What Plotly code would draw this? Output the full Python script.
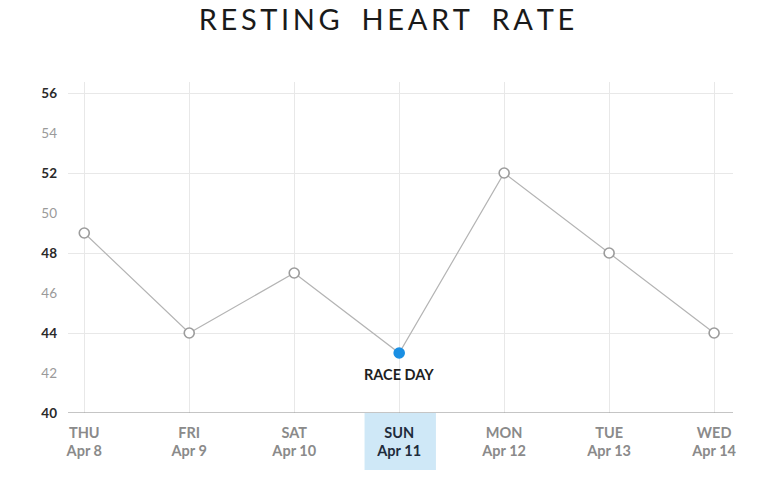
import plotly.graph_objects as go

# values
days = ["THU", "FRI", "SAT", "SUN", "MON", "TUE", "WED"]
dates = ["Apr 8", "Apr 9", "Apr 10", "Apr 11", "Apr 12", "Apr 13", "Apr 14"]
heart_rate = [49, 44, 47, 43, 52, 48, 44]
race_day = "SUN"
major_ticks = [40, 44, 48, 52, 56]
minor_ticks = [42, 46, 50, 54]

FONT = "Lato"
GRID = "#e8e8e8"
race_idx = days.index(race_day)

ticktext = []
for d, dt in zip(days, dates):
    if d == race_day:
        ticktext.append(f"<span style='color:#1e2c3c'>{d}<br>{dt}</span>")
    else:
        ticktext.append(f"{d}<br>{dt}")

fill = ["#1a8fe3" if d == race_day else "white" for d in days]
edge = ["#1a8fe3" if d == race_day else "#9c9c9c" for d in days]

fig = go.Figure()
fig.add_trace(go.Scatter(
    x=days, y=heart_rate, mode="lines+markers",
    line=dict(color="#b4b4b4", width=1.2),
    marker=dict(size=10, color=fill, line=dict(color=edge, width=1.6)),
    hoverinfo="x+y", showlegend=False,
))
# invisible trace so the light in-between labels get their own axis
fig.add_trace(go.Scatter(x=days, y=heart_rate, yaxis="y2", mode="markers",
                         marker=dict(opacity=0), hoverinfo="skip", showlegend=False))

# highlight box behind the race-day label
fig.add_shape(type="rect", xref="x", yref="paper",
              x0=race_idx - 0.33, x1=race_idx + 0.35, y0=-0.172, y1=0,
              fillcolor="#cfe8f7", line=dict(width=0), layer="below")

fig.add_annotation(x=race_day, y=heart_rate[race_idx], text="<b>RACE DAY</b>",
                   showarrow=False, yshift=-21,
                   font=dict(family=FONT, size=14.5, color="#1f1f1f"))

title = "\u2009".join("RESTING HEART RATE").replace("\u2009 \u2009", "\u2003")

fig.update_layout(
    width=760, height=469,
    margin=dict(l=60, r=35, t=74, b=64),
    paper_bgcolor="white", plot_bgcolor="white",
    font=dict(family=FONT),
    title=dict(text=title, x=0.498, xref="container", xanchor="center",
               y=0.975, yanchor="middle",
               font=dict(family=FONT, size=29, color="#1a1a1a")),
    xaxis=dict(
        type="category", categoryorder="array", categoryarray=days,
        range=[-0.155, 6.18],
        tickvals=days, ticktext=ticktext,
        tickfont=dict(family=FONT, size=14.5, color="#8a8a8a", weight="bold"),
        showgrid=True, gridcolor=GRID, gridwidth=1,
        ticks="", ticklabelstandoff=9,
        showline=False, zeroline=False,
    ),
    yaxis=dict(
        range=[40, 56.55],
        tickvals=major_ticks, ticktext=[f"<b>{v}</b>" for v in major_ticks],
        tickfont=dict(family=FONT, size=13.5, color="#2a2a2a"),
        showgrid=True, gridcolor=GRID, gridwidth=1,
        ticks="", ticklabelstandoff=10,
        showline=False, zeroline=False,
    ),
    yaxis2=dict(
        overlaying="y", side="left", range=[40, 56.55],
        tickvals=minor_ticks, ticktext=[str(v) for v in minor_ticks],
        tickfont=dict(family=FONT, size=13.5, color="#9a9a9a"),
        showgrid=False, ticks="", ticklabelstandoff=10,
        showline=False, zeroline=False,
    ),
)

# axis line along the baseline
fig.add_shape(type="line", xref="paper", yref="y", x0=0, x1=1, y0=40, y1=40,
              line=dict(color="#8c8c8c", width=1.2))

fig.write_html("out.html")
